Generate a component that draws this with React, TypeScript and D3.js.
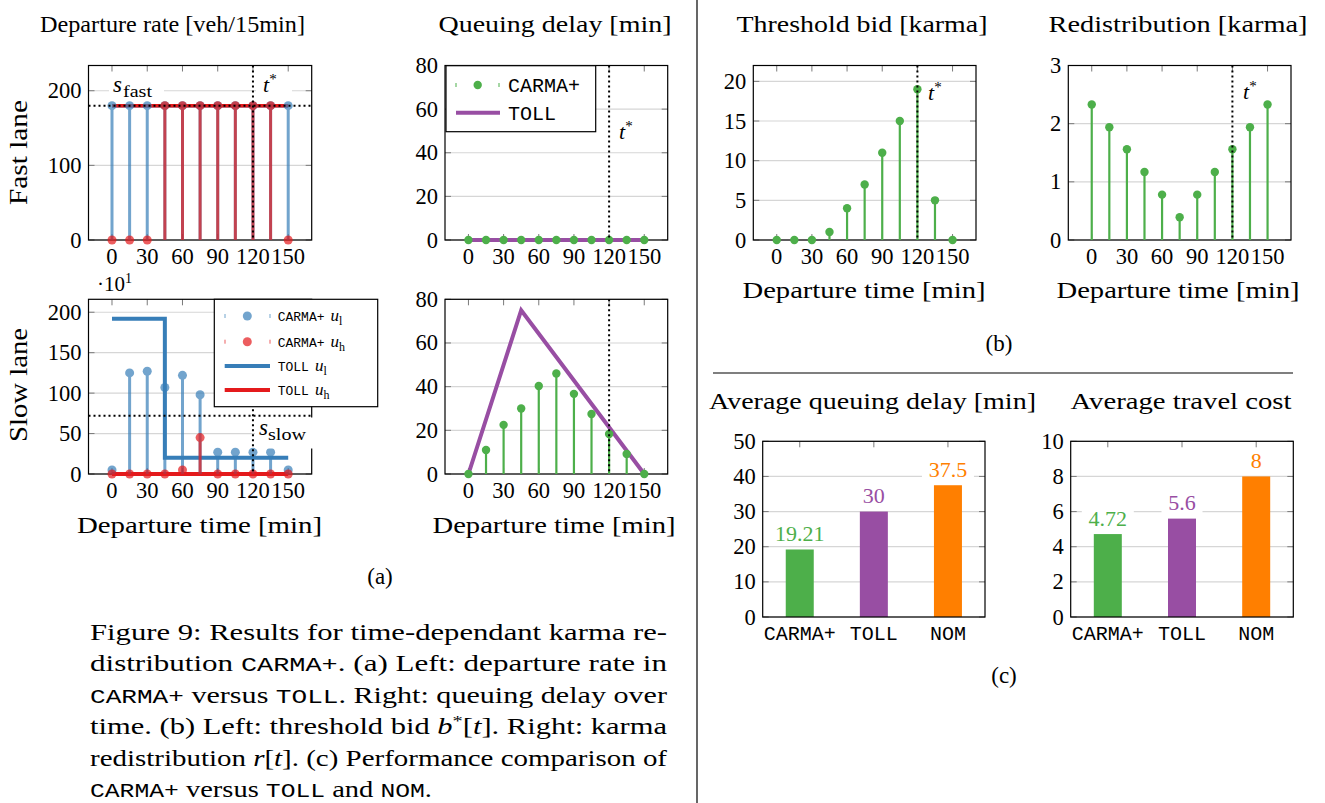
import React from "react";
import * as d3 from "d3";

const SERIF = "'Liberation Serif','Times New Roman',serif";
const MONO = "'Liberation Mono','DejaVu Sans Mono',monospace";
const BLUE = "#377eb8";
const RED = "#e41a1c";
const GREEN = "#4daf4a";
const PURPLE = "#984ea3";
const ORANGE = "#ff7f00";
const GRID = "#d6d6d6";
const TICK = "#7a7a7a";
const TICK_FONT = 22.5;

// ---------- data ----------
const times = [0, 15, 30, 45, 60, 75, 90, 105, 120, 135, 150];
const xTickValues = [0, 30, 60, 90, 120, 150];
const tStar = 120;
const sFast = 180;
const sSlow = 72;

const fastCarmaLow = [180, 180, 180, 180, 180, 180, 180, 180, 180, 180, 180];
const fastCarmaHigh = [0, 0, 0, 180, 180, 180, 180, 180, 180, 180, 0];
const slowCarmaLow = [5, 125, 127, 107, 122, 98, 27, 27, 27, 27, 5];
const slowCarmaHigh = [0, 0, 0, 0, 5, 45, 0, 0, 0, 0, 0];

const tollTimes = [0, 45, 150];
const fastTollLow = [180, 180, 180];
const fastTollHigh = [180, 180, 180];
const slowTollLow = [192, 20, 20];
const slowTollHigh = [0, 0, 0];

const delayCarmaFast = [0, 0, 0, 0, 0, 0, 0, 0, 0, 0, 0];
const delayTollFast = [0, 0, 0];
const delayCarmaSlow = [0, 11, 22.5, 30, 40.3, 46, 36.7, 27.5, 18.3, 9.2, 0];
const delayTollSlow = [0, 75, 0];

const thresholdBid = [0, 0, 0, 1, 4, 7, 11, 15, 19, 5, 0];
const redistribution = [2.33, 1.94, 1.56, 1.17, 0.78, 0.39, 0.78, 1.17, 1.56, 1.94, 2.33];

const methods = ["CARMA+", "TOLL", "NOM"];
const methodColors = [GREEN, PURPLE, ORANGE];
const avgDelay = [19.21, 30, 37.5];
const avgDelayLabels = ["19.21", "30", "37.5"];
const avgCost = [4.72, 5.6, 8];
const avgCostLabels = ["4.72", "5.6", "8"];

const yTicksFast = [0, 100, 200];
const yTicksSlow = [0, 50, 100, 150, 200];
const yTicksDelay = [0, 20, 40, 60, 80];
const yTicksBid = [0, 5, 10, 15, 20];
const yTicksRedis = [0, 1, 2, 3];
const yTicksAvgDelay = [0, 10, 20, 30, 40, 50];
const yTicksAvgCost = [0, 2, 4, 6, 8, 10];

// ---------- helpers ----------
type Box = { x0: number; x1: number; y0: number; y1: number };
const X_DOMAIN = [-20, 170];

function lin(box: Box, yMax: number) {
  const xs = d3.scaleLinear().domain(X_DOMAIN).range([box.x0, box.x1]);
  const ys = d3.scaleLinear().domain([0, yMax]).range([box.y1, box.y0]);
  return { xs, ys };
}

function AxisBack({ box, ys, yTicks, xPositions }: any) {
  return (
    <g>
      {yTicks.map((v: number) => (
        <line key={"g" + v} x1={box.x0} x2={box.x1} y1={ys(v)} y2={ys(v)} stroke={GRID} strokeWidth={1.2} />
      ))}
      {yTicks.map((v: number) => (
        <g key={"t" + v} stroke={TICK} strokeWidth={1}>
          <line x1={box.x0} x2={box.x0 + 6} y1={ys(v)} y2={ys(v)} />
          <line x1={box.x1 - 6} x2={box.x1} y1={ys(v)} y2={ys(v)} />
        </g>
      ))}
      {xPositions.map((px: number, i: number) => (
        <g key={"x" + i} stroke={TICK} strokeWidth={1}>
          <line x1={px} x2={px} y1={box.y1} y2={box.y1 - 6} />
          <line x1={px} x2={px} y1={box.y0} y2={box.y0 + 6} />
        </g>
      ))}
    </g>
  );
}

function Frame({ box }: { box: Box }) {
  return (
    <rect x={box.x0} y={box.y0} width={box.x1 - box.x0} height={box.y1 - box.y0} fill="none" stroke="#000" strokeWidth={1.2} />
  );
}

function YLabels({ box, ys, yTicks }: any) {
  return (
    <g fontFamily={SERIF} fontSize={TICK_FONT} textAnchor="end">
      {yTicks.map((v: number) => (
        <text key={v} x={box.x0 - 7} y={ys(v) + 7.5}>
          {v}
        </text>
      ))}
    </g>
  );
}

function XLabels({ box, xs }: any) {
  return (
    <g fontFamily={SERIF} fontSize={TICK_FONT} textAnchor="middle">
      {xTickValues.map((v) => (
        <text key={v} x={xs(v)} y={box.y1 + 24}>
          {v}
        </text>
      ))}
    </g>
  );
}

function Stems({ xs, ys, vals, color, opacity = 1, sw = 3, r = 4.5 }: any) {
  return (
    <g opacity={opacity}>
      {vals.map((v: number, i: number) => (
        <line key={"s" + i} x1={xs(times[i])} x2={xs(times[i])} y1={ys(0)} y2={ys(v)} stroke={color} strokeWidth={sw} />
      ))}
      {vals.map((v: number, i: number) => (
        <circle key={"c" + i} cx={xs(times[i])} cy={ys(v)} r={r} fill={color} />
      ))}
    </g>
  );
}

function StepLine({ xs, ys, tx, vals, color, step = true, sw = 4 }: any) {
  const pts = tx.map((t: number, i: number) => [t, vals[i]]);
  const gen = d3
    .line<number[]>()
    .x((d) => xs(d[0]))
    .y((d) => ys(d[1]))
    .curve(step ? d3.curveStepAfter : d3.curveLinear);
  return <path d={gen(pts) || ""} fill="none" stroke={color} strokeWidth={sw} />;
}

function VDotted({ x, y0, y1 }: any) {
  return <line x1={x} x2={x} y1={y0} y2={y1} stroke="#000" strokeWidth={2} strokeDasharray="2 3" />;
}
function HDotted({ y, x0, x1 }: any) {
  return <line x1={x0} x2={x1} y1={y} y2={y} stroke="#000" strokeWidth={2} strokeDasharray="2 3" />;
}

function TStar({ x, y }: any) {
  return (
    <text x={x} y={y} fontFamily={SERIF} fontSize={22}>
      <tspan fontStyle="italic">t</tspan>
      <tspan fontSize={15} dy={-8}>
        *
      </tspan>
    </text>
  );
}

function Label({ x, y, children, size = 23, len, anchor = "middle", family = SERIF, fill = "#000", rotate }: any) {
  return (
    <text
      x={x}
      y={y}
      fontFamily={family}
      fontSize={size}
      textAnchor={anchor}
      fill={fill}
      textLength={len}
      lengthAdjust={len ? "spacingAndGlyphs" : undefined}
      transform={rotate ? `rotate(-90 ${x} ${y})` : undefined}
    >
      {children}
    </text>
  );
}

function BarPanel({ box, yMax, yTicks, vals, labels }: any) {
  const xs = d3.scaleBand<string>().domain(methods).range([box.x0, box.x1]).padding(0);
  const ys = d3.scaleLinear().domain([0, yMax]).range([box.y1, box.y0]);
  const cx = (m: string) => (xs(m) as number) + xs.bandwidth() / 2;
  const bw = 28;
  return (
    <g>
      <AxisBack box={box} ys={ys} yTicks={yTicks} xPositions={methods.map(cx)} />
      {methods.map((m, i) => (
        <rect key={m} x={cx(m) - bw / 2} y={ys(vals[i])} width={bw} height={ys(0) - ys(vals[i])} fill={methodColors[i]} />
      ))}
      {methods.map((m, i) => {
        const w = labels[i].length * 11 + 8;
        const cy = ys(vals[i]) - 16;
        return (
          <g key={"l" + m}>
            <rect x={cx(m) - w / 2} y={cy - 11} width={w} height={22} fill="#fff" />
            <text x={cx(m)} y={cy + 7.5} textAnchor="middle" fontFamily={SERIF} fontSize={22} fill={methodColors[i]}>
              {labels[i]}
            </text>
          </g>
        );
      })}
      <Frame box={box} />
      <YLabels box={box} ys={ys} yTicks={yTicks} />
      <g fontFamily={MONO} fontSize={20} textAnchor="middle">
        {methods.map((m) => (
          <text key={m} x={cx(m)} y={box.y1 + 23}>
            {m}
          </text>
        ))}
      </g>
    </g>
  );
}

export default function App() {
  const A1: Box = { x0: 88.5, x1: 311.7, y0: 65.5, y1: 240 };
  const A2: Box = { x0: 88.5, x1: 311.7, y0: 299.3, y1: 474 };
  const A3: Box = { x0: 445, x1: 667.7, y0: 65.5, y1: 240 };
  const A4: Box = { x0: 445, x1: 667.7, y0: 299.3, y1: 474 };
  const B1: Box = { x0: 753.3, x1: 976, y0: 65.5, y1: 240 };
  const B2: Box = { x0: 1068.3, x1: 1291, y0: 65.5, y1: 240 };
  const C1: Box = { x0: 762.7, x1: 985, y0: 441.3, y1: 617 };
  const C2: Box = { x0: 1070.7, x1: 1293.3, y0: 441.3, y1: 617 };

  const a1 = lin(A1, 233.8);
  const a2 = lin(A2, 216);
  const a3 = lin(A3, 80);
  const a4 = lin(A4, 80);
  const b1 = lin(B1, 22);
  const b2 = lin(B2, 3);

  const xPos = (xs: any) => xTickValues.map((v) => xs(v));
  const blueA = 0.7;
  const redA = 0.7;

  const capY = [640, 671.4, 702.8, 734.2, 765.6, 797];

  return (
    <svg width={1325} height={803} style={{ position: "absolute", left: 0, top: 0, background: "#fff" }}>
      <rect x={0} y={0} width={1325} height={803} fill="#fff" />

      {/* ---------- A1: fast lane departure rate ---------- */}
      <AxisBack box={A1} ys={a1.ys} yTicks={yTicksFast} xPositions={xPos(a1.xs)} />
      <Frame box={A1} />
      <StepLine xs={a1.xs} ys={a1.ys} tx={tollTimes} vals={fastTollLow} color={BLUE} sw={3.5} />
      <StepLine xs={a1.xs} ys={a1.ys} tx={tollTimes} vals={fastTollHigh} color={RED} sw={3.5} />
      <Stems xs={a1.xs} ys={a1.ys} vals={fastCarmaLow} color={BLUE} opacity={blueA} />
      <Stems xs={a1.xs} ys={a1.ys} vals={fastCarmaHigh} color={RED} opacity={redA} />
      <HDotted y={a1.ys(sFast)} x0={A1.x0} x1={A1.x1} />
      <VDotted x={a1.xs(tStar)} y0={A1.y0} y1={A1.y1} />
      <rect x={109} y={76} width={55} height={24} fill="#fff" />
      <text x={113} y={92} fontFamily={SERIF} fontSize={23} fontStyle="italic">
        s
      </text>
      <text x={123} y={97} fontFamily={SERIF} fontSize={16} textLength={29} lengthAdjust="spacingAndGlyphs">
        fast
      </text>
      <rect x={256} y={72} width={36} height={27} fill="#fff" />
      <TStar x={263} y={92} />
      <YLabels box={A1} ys={a1.ys} yTicks={yTicksFast} />
      <XLabels box={A1} xs={a1.xs} />

      {/* ---------- A2: slow lane departure rate ---------- */}
      <AxisBack box={A2} ys={a2.ys} yTicks={yTicksSlow} xPositions={xPos(a2.xs)} />
      <Frame box={A2} />
      <StepLine xs={a2.xs} ys={a2.ys} tx={tollTimes} vals={slowTollLow} color={BLUE} />
      <StepLine xs={a2.xs} ys={a2.ys} tx={tollTimes} vals={slowTollHigh} color={RED} />
      <Stems xs={a2.xs} ys={a2.ys} vals={slowCarmaLow} color={BLUE} opacity={blueA} />
      <Stems xs={a2.xs} ys={a2.ys} vals={slowCarmaHigh} color={RED} opacity={redA} />
      <HDotted y={a2.ys(sSlow)} x0={A2.x0} x1={A2.x1} />
      <VDotted x={a2.xs(tStar)} y0={A2.y0} y1={A2.y1} />
      <rect x={255} y={417.5} width={62} height={31} fill="#fff" />
      <text x={259} y={435} fontFamily={SERIF} fontSize={23} fontStyle="italic">
        s
      </text>
      <text x={268} y={440} fontFamily={SERIF} fontSize={16} textLength={38} lengthAdjust="spacingAndGlyphs">
        slow
      </text>
      <YLabels box={A2} ys={a2.ys} yTicks={yTicksSlow} />
      <XLabels box={A2} xs={a2.xs} />
      <text x={97} y={291} fontFamily={SERIF} fontSize={21}>
        ·10
        <tspan fontSize={14} dy={-8}>
          1
        </tspan>
      </text>
      {/* legend A2 */}
      <rect x={214.3} y={299.3} width={163.4} height={107.4} fill="#fff" stroke="#000" strokeWidth={1.2} />
      {[
        { y: 316, kind: "mark", color: BLUE, op: blueA, name: "CARMA+", sub: "l" },
        { y: 341.7, kind: "mark", color: RED, op: redA, name: "CARMA+", sub: "h" },
        { y: 366, kind: "line", color: BLUE, op: 1, name: "TOLL", sub: "l" },
        { y: 390, kind: "line", color: RED, op: 1, name: "TOLL", sub: "h" },
      ].map((e, i) => (
        <g key={"lg" + i}>
          {e.kind === "mark" ? (
            <g opacity={e.op}>
              <line x1={225} x2={225} y1={e.y - 2} y2={e.y + 2} stroke={e.color} strokeWidth={1} />
              <line x1={270} x2={270} y1={e.y - 2} y2={e.y + 2} stroke={e.color} strokeWidth={1} />
              <circle cx={247.3} cy={e.y} r={4.5} fill={e.color} />
            </g>
          ) : (
            <line x1={224.7} x2={270} y1={e.y} y2={e.y} stroke={e.color} strokeWidth={4} />
          )}
          <text x={277.7} y={e.y + 5} fontFamily={MONO} fontSize={13}>
            {e.name}
            <tspan fontFamily={SERIF} fontStyle="italic" fontSize={17} dx={6}>
              u
            </tspan>
            <tspan fontFamily={SERIF} fontSize={12} dy={4}>
              {e.sub}
            </tspan>
          </text>
        </g>
      ))}

      {/* ---------- A3: fast lane queuing delay ---------- */}
      <AxisBack box={A3} ys={a3.ys} yTicks={yTicksDelay} xPositions={xPos(a3.xs)} />
      <Frame box={A3} />
      <StepLine xs={a3.xs} ys={a3.ys} tx={tollTimes} vals={delayTollFast} color={PURPLE} step={false} />
      <Stems xs={a3.xs} ys={a3.ys} vals={delayCarmaFast} color={GREEN} sw={2.2} r={4.2} />
      <VDotted x={a3.xs(tStar)} y0={A3.y0} y1={A3.y1} />
      <TStar x={619} y={139} />
      <rect x={446} y={65.7} width={149.7} height={66} fill="#fff" stroke="#000" strokeWidth={1.2} />
      <line x1={456} x2={456} y1={83} y2={87} stroke={GREEN} strokeWidth={1} />
      <line x1={499} x2={499} y1={83} y2={87} stroke={GREEN} strokeWidth={1} />
      <circle cx={477.7} cy={85} r={4.2} fill={GREEN} />
      <text x={508} y={92} fontFamily={MONO} fontSize={20}>
        CARMA+
      </text>
      <line x1={456} x2={500} y1={112.7} y2={112.7} stroke={PURPLE} strokeWidth={4} />
      <text x={508} y={120} fontFamily={MONO} fontSize={20}>
        TOLL
      </text>
      <YLabels box={A3} ys={a3.ys} yTicks={yTicksDelay} />
      <XLabels box={A3} xs={a3.xs} />

      {/* ---------- A4: slow lane queuing delay ---------- */}
      <AxisBack box={A4} ys={a4.ys} yTicks={yTicksDelay} xPositions={xPos(a4.xs)} />
      <Frame box={A4} />
      <StepLine xs={a4.xs} ys={a4.ys} tx={tollTimes} vals={delayTollSlow} color={PURPLE} step={false} />
      <Stems xs={a4.xs} ys={a4.ys} vals={delayCarmaSlow} color={GREEN} sw={2.2} r={4.2} />
      <VDotted x={a4.xs(tStar)} y0={A4.y0} y1={A4.y1} />
      <YLabels box={A4} ys={a4.ys} yTicks={yTicksDelay} />
      <XLabels box={A4} xs={a4.xs} />

      {/* ---------- B1: threshold bid ---------- */}
      <AxisBack box={B1} ys={b1.ys} yTicks={yTicksBid} xPositions={xPos(b1.xs)} />
      <Frame box={B1} />
      <Stems xs={b1.xs} ys={b1.ys} vals={thresholdBid} color={GREEN} sw={2.2} r={4.2} />
      <VDotted x={b1.xs(tStar)} y0={B1.y0} y1={B1.y1} />
      <TStar x={928} y={100} />
      <YLabels box={B1} ys={b1.ys} yTicks={yTicksBid} />
      <XLabels box={B1} xs={b1.xs} />

      {/* ---------- B2: redistribution ---------- */}
      <AxisBack box={B2} ys={b2.ys} yTicks={yTicksRedis} xPositions={xPos(b2.xs)} />
      <Frame box={B2} />
      <Stems xs={b2.xs} ys={b2.ys} vals={redistribution} color={GREEN} sw={2.2} r={4.2} />
      <VDotted x={b2.xs(tStar)} y0={B2.y0} y1={B2.y1} />
      <TStar x={1243} y={99} />
      <YLabels box={B2} ys={b2.ys} yTicks={yTicksRedis} />
      <XLabels box={B2} xs={b2.xs} />

      {/* ---------- C: bars ---------- */}
      <BarPanel box={C1} yMax={50} yTicks={yTicksAvgDelay} vals={avgDelay} labels={avgDelayLabels} />
      <BarPanel box={C2} yMax={10} yTicks={yTicksAvgCost} vals={avgCost} labels={avgCostLabels} />

      {/* ---------- titles & labels ---------- */}
      <Label x={172.5} y={32} len={265}>Departure rate [veh/15min]</Label>
      <Label x={555} y={32} len={233}>Queuing delay [min]</Label>
      <Label x={862} y={32} len={251}>Threshold bid [karma]</Label>
      <Label x={1178} y={32} len={259}>Redistribution [karma]</Label>
      <Label x={27} y={152.5} len={105} rotate size={25}>Fast lane</Label>
      <Label x={27} y={385} len={114} rotate size={25}>Slow lane</Label>
      <Label x={199.5} y={533} len={245} size={24}>Departure time [min]</Label>
      <Label x={554} y={533} len={243} size={24}>Departure time [min]</Label>
      <Label x={864} y={298} len={243} size={24}>Departure time [min]</Label>
      <Label x={1178} y={298} len={243} size={24}>Departure time [min]</Label>
      <Label x={872.5} y={409} len={327}>Average queuing delay [min]</Label>
      <Label x={1181} y={409} len={221}>Average travel cost</Label>
      <Label x={380} y={584}>(a)</Label>
      <Label x={999} y={351}>(b)</Label>
      <Label x={1004} y={683}>(c)</Label>

      {/* dividers */}
      <line x1={697} x2={697} y1={0} y2={803} stroke="#000" strokeWidth={1.2} />
      <line x1={713} x2={1293} y1={373} y2={373} stroke="#000" strokeWidth={1.2} />

      {/* ---------- caption ---------- */}
      <g fontFamily={SERIF} fontSize={22.5}>
        <text x={90} y={capY[0]} textLength={577} lengthAdjust="spacingAndGlyphs">
          Figure 9:  Results for time-dependant karma re-
        </text>
        <text x={90} y={capY[1]} textLength={577} lengthAdjust="spacingAndGlyphs">
          distribution <tspan fontFamily={MONO} fontSize={19.5}>CARMA+</tspan>.  (a) Left: departure rate in
        </text>
        <text x={90} y={capY[2]} textLength={577} lengthAdjust="spacingAndGlyphs">
          <tspan fontFamily={MONO} fontSize={19.5}>CARMA+</tspan> versus <tspan fontFamily={MONO} fontSize={19.5}>TOLL</tspan>.  Right: queuing delay over
        </text>
        <text x={90} y={capY[3]} textLength={577} lengthAdjust="spacingAndGlyphs">
          time. (b) Left: threshold bid <tspan fontStyle="italic">b</tspan>
          <tspan fontSize={15} dy={-8}>*</tspan>
          <tspan dy={8}>[</tspan>
          <tspan fontStyle="italic">t</tspan>].  Right: karma
        </text>
        <text x={90} y={capY[4]} textLength={577} lengthAdjust="spacingAndGlyphs">
          redistribution <tspan fontStyle="italic">r</tspan>[<tspan fontStyle="italic">t</tspan>]. (c) Performance comparison of
        </text>
        <text x={90} y={capY[5]} textLength={342} lengthAdjust="spacingAndGlyphs">
          <tspan fontFamily={MONO} fontSize={19.5}>CARMA+</tspan> versus <tspan fontFamily={MONO} fontSize={19.5}>TOLL</tspan> and <tspan fontFamily={MONO} fontSize={19.5}>NOM</tspan>.
        </text>
      </g>
    </svg>
  );
}
